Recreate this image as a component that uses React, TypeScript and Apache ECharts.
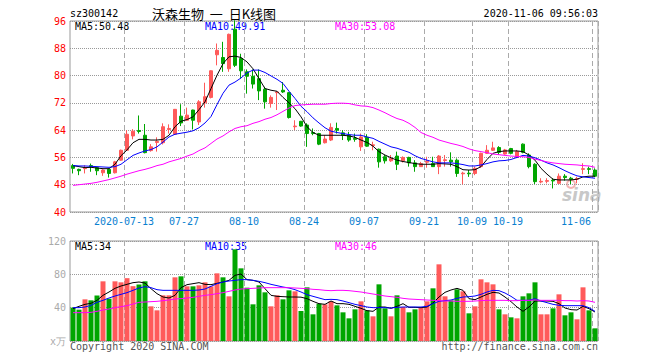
import React, { useEffect, useRef } from 'react';
import * as echarts from 'echarts';

const dates = ['06-30','07-01','07-02','07-03','07-06','07-07','07-08','07-09','07-10','07-13','07-14','07-15','07-16','07-17','07-20','07-21','07-22','07-23','07-24','07-27','07-28','07-29','07-30','07-31','08-03','08-04','08-05','08-06','08-07','08-10','08-11','08-12','08-13','08-14','08-17','08-18','08-19','08-20','08-21','08-24','08-25','08-26','08-27','08-28','08-31','09-01','09-02','09-03','09-04','09-07','09-08','09-09','09-10','09-11','09-14','09-15','09-16','09-17','09-18','09-21','09-22','09-23','09-24','09-25','09-28','09-29','09-30','10-09','10-12','10-13','10-14','10-15','10-16','10-19','10-20','10-21','10-22','10-23','10-26','10-27','10-28','10-29','10-30','11-02','11-03','11-04','11-05','11-06'];
const tickDates = ['07-13','07-27','08-10','08-24','09-07','09-21','10-09','10-19','11-06'];
const yearLabel = '2020';

const open = [53.6,52.5,52.7,53.6,53.0,51.5,52.5,51.5,55.2,58.1,62.3,63.9,62.5,58.0,60.4,60.3,64.2,62.8,68.1,66.9,69.9,66.4,72.0,73.6,86.1,85.3,82.0,93.6,85.0,81.1,79.8,79.1,76.0,71.8,75.0,75.7,75.0,65.0,66.6,65.5,63.3,63.0,60.3,61.1,64.5,63.2,62.5,61.6,59.1,61.9,59.5,58.4,56.2,55.0,56.4,55.0,56.0,54.4,53.3,54.6,54.2,53.3,55.1,55.2,55.2,51.2,51.4,51.3,53.3,57.2,58.1,58.9,57.0,58.6,56.0,59.9,56.7,54.0,48.8,49.0,49.3,48.4,50.5,49.9,49.6,52.5,52.7,52.3];
const close = [52.8,52.1,52.9,53.3,52.1,52.3,51.3,54.7,58.1,62.8,63.7,63.6,57.4,59.1,60.7,65.0,64.5,70.1,66.1,68.4,66.9,72.3,73.8,81.4,87.4,83.5,92.1,83.0,81.4,79.8,77.5,75.5,72.3,73.6,75.2,75.2,67.7,65.2,65.2,63.0,63.0,59.9,61.4,64.8,64.0,62.5,61.1,61.3,62.0,59.3,59.7,54.7,55.0,55.7,54.0,56.0,54.4,53.3,54.2,54.9,53.3,56.4,55.3,54.7,51.3,51.4,51.2,52.8,57.2,58.1,58.8,57.5,58.2,57.2,57.7,57.5,53.3,48.9,49.0,49.2,49.1,50.5,50.1,49.6,49.8,52.7,52.5,50.5];
const low = [51.3,50.8,51.3,51.8,50.8,50.6,50.1,51.3,55.0,57.9,61.3,63.0,57.2,57.7,57.7,59.8,63.0,62.6,65.2,66.9,64.2,65.5,70.6,73.3,83.0,81.1,81.1,82.5,79.1,74.7,76.2,72.8,70.3,70.6,69.9,74.9,67.4,64.0,65.0,59.1,62.5,59.6,60.1,60.8,63.0,61.1,60.6,60.6,57.9,59.1,58.1,53.0,54.2,54.7,52.3,54.5,53.3,51.8,53.2,53.0,53.2,51.1,53.3,53.3,50.3,48.1,50.3,50.8,53.0,57.0,57.9,56.7,56.8,56.9,55.8,57.2,52.8,48.2,48.4,48.4,46.9,48.2,49.2,48.2,48.4,51.1,51.1,50.3];
const high = [54.1,52.7,53.7,54.2,53.2,52.5,52.7,55.0,58.3,64.0,64.3,68.3,65.8,59.9,61.9,66.0,65.7,70.2,71.6,70.6,70.0,72.8,77.9,81.5,89.4,89.9,92.3,96.2,86.4,81.8,81.8,81.8,76.7,74.2,75.3,78.1,75.2,66.9,66.7,66.0,64.5,63.2,62.5,66.0,66.2,64.0,63.5,63.0,63.0,62.8,60.6,58.6,56.7,56.7,57.7,56.3,56.2,55.2,54.7,56.2,56.2,56.7,56.7,57.5,55.7,51.8,52.3,53.3,57.4,59.6,60.6,59.3,58.5,58.8,58.2,60.1,57.2,54.3,49.9,49.9,49.9,51.3,51.1,50.3,50.3,54.3,53.3,52.8];

const ma5 = [53.6,53.3,53.0,53.1,52.9,52.7,52.7,54.0,56.5,58.2,60.3,61.3,61.3,61.1,61.1,61.3,62.5,65.0,66.6,67.1,67.9,70.0,72.3,76.2,80.1,83.5,85.5,85.7,85.3,84.0,82.0,79.1,76.2,75.7,75.4,73.6,72.0,70.3,67.9,65.0,63.3,62.5,62.5,62.5,62.5,62.5,62.3,61.9,61.1,60.4,59.3,57.7,56.7,55.9,55.2,54.8,54.5,54.2,54.0,54.0,54.0,54.2,54.1,54.0,53.3,52.4,52.3,52.4,53.3,55.4,57.2,57.7,57.9,57.9,57.9,57.7,56.7,55.2,52.8,51.1,49.6,49.4,49.4,49.4,49.6,50.3,50.5,50.5];
const ma10 = [53.6,53.5,53.5,53.4,53.3,53.2,53.1,53.3,54.0,55.3,56.6,57.3,57.9,58.3,59.1,60.5,62.0,62.8,63.1,63.4,63.8,64.7,66.1,68.0,71.5,74.8,77.2,78.1,79.3,80.8,81.6,81.6,80.9,79.9,78.9,77.7,75.4,73.3,71.0,69.4,67.6,66.1,64.7,63.7,63.3,63.0,62.7,62.5,62.5,62.0,61.6,60.7,59.9,59.1,58.7,58.1,57.5,56.5,55.7,55.2,54.7,54.4,54.4,54.4,54.2,53.9,53.5,53.5,53.8,54.2,54.7,55.0,55.1,55.4,56.0,56.6,56.4,55.9,55.2,54.4,53.8,53.0,52.1,51.3,50.6,50.3,50.1,49.9];
const ma30 = [47.8,48.0,48.2,48.4,48.7,49.1,49.5,50.0,50.5,51.1,51.6,52.1,52.5,53.0,53.6,54.0,54.7,55.2,55.7,56.4,57.0,58.0,58.8,60.1,61.4,62.3,63.5,64.5,65.0,65.3,66.0,66.5,67.2,67.7,68.5,69.5,70.5,71.2,71.4,71.5,71.6,71.6,71.6,71.8,71.9,71.9,71.8,71.4,71.1,71.0,70.6,69.9,69.1,68.2,67.4,66.9,66.0,64.8,63.3,62.5,61.9,61.1,60.6,60.1,59.7,59.2,58.5,58.0,57.7,57.4,57.0,56.8,56.6,56.4,56.3,56.2,56.0,55.5,55.1,54.7,54.4,54.2,54.0,53.9,53.8,53.6,53.5,53.1];

const volume = [40,37.6,50,48.8,54.6,71.6,50.8,71.6,70.4,75.4,65.8,67.8,71.6,41.6,36.8,54.8,54.8,76.4,77.6,65.6,65.6,66.8,70.4,65.6,81.2,76.4,53.6,110,87.2,64,44,66.8,58.4,41.6,54.8,50,60.8,59.6,36,64.4,32,44.8,44,47.6,42.8,34.4,27.2,38,47.6,36.8,29.6,68,39.2,29.6,54.8,40.8,34.4,38,40.8,47.6,63.2,92,53.6,48.8,62,59.6,33.2,41.6,74,70.4,68,38,32,28.4,27.2,53.6,57.2,70.4,32,32,39.2,56,30.8,34.4,26,64.4,36.8,15.2];
const volMa5 = [38.8,41.6,44,45.2,48.8,54.8,58.8,63.2,66,68,70,70.8,69.6,62.8,56.8,52.8,51.6,54.8,64,67.6,68.8,70,68,67.6,69.2,70.8,72.8,78.8,80.4,73.6,72.8,70.8,62.8,54.8,53.6,53.2,52.8,52.8,52.6,50.8,47.6,44.8,44,48,44.8,44.8,44,41.6,39.2,36.4,35.6,40.8,40.8,39.2,41.6,44.8,40.4,40.4,40,40.8,45.6,52.8,58.4,61.2,63.2,60.8,50.8,49.6,52.8,56,58.4,57.6,52.8,47.2,40.8,35.6,40.8,48,48,48,47.6,44.8,39.6,37.6,37.2,41.6,38.8,34.8];
const volMa10 = [40,40,40.8,42.8,46.4,48.8,51.6,54,56,58,60.8,63.6,65.2,64,61.6,60.8,60.8,60.8,60.8,60.8,60.8,61.2,62.4,65.6,68.8,70.8,72,72.8,73.6,73.6,72.8,71.6,70,68,66.4,64.8,63.6,61.6,58.8,55.6,53.6,51.6,49.6,50,49.6,48,46,44,42.4,40.8,40,40,40,39.6,40.4,40.8,40.8,40.8,40.8,41.6,44.8,47.6,48.4,49.2,51.2,52.8,53.2,54,56,58.8,60.8,60.4,57.6,53.6,48.8,48.8,48.8,50.8,48,46,44,42.8,42.4,42.4,42.4,42.4,40,35.6];
const volMa30 = [34,34,34,34.4,35.6,37.2,38.4,40,41.2,42.4,44.4,46.4,46.8,47.2,47.6,48.4,49.2,50.4,50.8,51.6,52.4,53.6,54.8,55.6,56.8,58,59.6,61.2,62.4,62.8,63.2,63.6,64,64,64,64,64,63.6,63.2,62.8,62,61.6,60.8,60.4,60.8,60.8,60.4,59.6,58.8,57.6,56.4,55.2,54,53.2,52.4,51.2,50.4,50,49.6,49.2,48.8,48.4,48,48,47.6,47.6,47.6,48,48.4,48.8,48.8,48.8,48.8,48.4,48.4,48.8,48.8,49.2,48.8,48.8,48.8,48.8,48.4,48.4,48,48.4,48,46.4];

const RED = '#ff5a5a';
const GREEN = '#00a600';
const MONO = '"DejaVu Sans Mono", monospace';
const LABEL_BLUE = '#0a80d0';

export default function App() {
  const ref = useRef<HTMLDivElement>(null);
  useEffect(() => {
    if (!ref.current) return;
    const chart = echarts.init(ref.current, undefined, { renderer: 'svg' });
    const isTick = (_i: number, v: string) => tickDates.indexOf(v) >= 0;
    const lastTick = tickDates[tickDates.length - 1];
    const candles = dates.map((_, i) => [open[i], close[i], low[i], high[i]]);
    const volBars = volume.map((v, i) => ({
      value: v,
      itemStyle: { color: close[i] >= open[i] ? RED : GREEN },
    }));
    const lineS = (name: string, data: number[], color: string, ax: number) => ({
      name, type: 'line', data, xAxisIndex: ax, yAxisIndex: ax,
      symbol: 'none', showSymbol: false, silent: true,
      lineStyle: { width: 1, color }, itemStyle: { color },
    });
    const txt = (text: string, x: number, y: number, fill: string, align = 'left', font = `10px ${MONO}`) => ({
      type: 'text', silent: true,
      style: { text, x, y, fill, font, align, textAlign: align, verticalAlign: 'middle', textVerticalAlign: 'middle' },
    });
    const xAxisBase = (grid: number, showLabel: boolean) => ({
      type: 'category', gridIndex: grid, data: dates, boundaryGap: true,
      axisLine: { show: false }, axisTick: { show: false },
      axisLabel: {
        show: showLabel, interval: isTick, color: LABEL_BLUE, fontFamily: MONO, fontSize: 10, margin: 4,
        padding: [0, 6, 0, 0],
        formatter: (v: string) => {
          if (v === tickDates[0]) return `${yearLabel}-${v}`;
          if (v === lastTick) return `{e|${v}}`;
          return v;
        },
        rich: {
          e: { color: LABEL_BLUE, fontFamily: MONO, fontSize: 10, padding: [0, 32, 0, 0] },
        },
      },
      splitLine: { show: true, interval: isTick, lineStyle: { color: '#aaa', type: [5, 3], width: 1 } },
    });
    chart.setOption({
      animation: false,
      backgroundColor: '#fff',
      grid: [
        { left: 70, top: 21, width: 528, height: 191, show: true, borderColor: '#999', borderWidth: 1 },
        { left: 70, top: 241, width: 528, height: 100, show: true, borderColor: '#999', borderWidth: 1 },
      ],
      xAxis: [xAxisBase(0, true), xAxisBase(1, false)],
      yAxis: [
        {
          gridIndex: 0, min: 40, max: 96, interval: 8,
          axisLine: { show: false }, axisTick: { show: false },
          axisLabel: { color: '#f00', fontFamily: MONO, fontSize: 10, margin: 4 },
          splitLine: { lineStyle: { color: '#999', type: [1, 1] } },
        },
        {
          gridIndex: 1, min: 0, max: 120, interval: 40,
          axisLine: { show: false }, axisTick: { show: false },
          axisLabel: {
            color: '#aaa', fontFamily: MONO, fontSize: 10, margin: 4,
            formatter: (v: number) => (v === 0 ? 'x万' : String(v)),
          },
          splitLine: { lineStyle: { color: '#999', type: [1, 1] } },
        },
      ],
      series: [
        {
          type: 'candlestick', data: candles, xAxisIndex: 0, yAxisIndex: 0, barWidth: 4, silent: true,
          itemStyle: { color: RED, color0: GREEN, borderColor: RED, borderColor0: GREEN, borderWidth: 1 },
        },
        lineS('MA5', ma5, '#000', 0),
        lineS('MA10', ma10, '#0000ff', 0),
        lineS('MA30', ma30, '#ff00ff', 0),
        { type: 'bar', data: volBars, xAxisIndex: 1, yAxisIndex: 1, barWidth: 5, silent: true },
        lineS('VMA5', volMa5, '#000', 1),
        lineS('VMA10', volMa10, '#0000ff', 1),
        lineS('VMA30', volMa30, '#ff00ff', 1),
      ],
      graphic: [
        txt('sz300142', 70, 13, '#000'),
        txt('沃森生物  一  日K线图', 152, 13, '#000', 'left', '13px "Noto Sans CJK SC"'),
        txt('2020-11-06 09:56:03', 598, 13, '#000', 'right'),
        txt('MA5:50.48', 75, 26, '#000'),
        txt('MA10:49.91', 205, 26, '#0000ff'),
        txt('MA30:53.08', 335, 26, '#ff00ff'),
        txt('MA5:34', 75, 246, '#000'),
        txt('MA10:35', 205, 246, '#0000ff'),
        txt('MA30:46', 335, 246, '#ff00ff'),
        txt('Copyright 2020 SINA.COM', 70, 346, '#555'),
        txt('http://finance.sina.com.cn', 598, 346, '#555', 'right'),
        { type: 'circle', silent: true, shape: { cx: 571, cy: 184, r: 4 }, style: { fill: 'none', stroke: '#f4b4b4', lineWidth: 2 } },
        txt('sina', 562, 195, '#c8c8c8', 'left', 'italic bold 17px "DejaVu Sans"'),
      ],
    });
    return () => chart.dispose();
  }, []);
  return <div ref={ref} style={{ position: 'fixed', left: 0, top: 0, width: 660, height: 360, background: '#fff' }} />;
}
